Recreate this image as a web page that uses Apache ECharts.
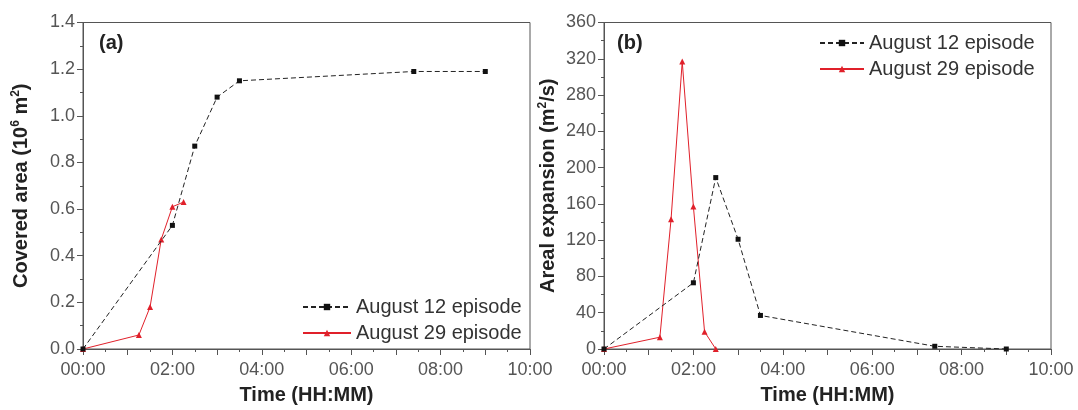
<!DOCTYPE html>
<html><head><meta charset="utf-8">
<script src="https://cdn.jsdelivr.net/npm/echarts@6/dist/echarts.min.js"></script>
<style>html,body{margin:0;padding:0;background:#fff}#c{width:1078px;height:410px}</style>
</head><body><div id="c"></div>
<script>
// Panel (a): covered area (10^6 m^2) vs time (hours)
const aug12AreaHours = [0, 2.0, 2.5, 3.0, 3.5, 7.4, 9.0];
const aug12Area = [0, 0.53, 0.87, 1.08, 1.15, 1.19, 1.19];
const aug29AreaHours = [0, 1.25, 1.5, 1.75, 2.0, 2.25];
const aug29Area = [0, 0.06, 0.18, 0.47, 0.61, 0.63];
// Panel (b): areal expansion (m^2/s) vs time (hours)
const aug12ExpHours = [0, 2.0, 2.5, 3.0, 3.5, 7.4, 9.0];
const aug12Exp = [0, 73, 189, 121, 37, 3, 0];
const aug29ExpHours = [0, 1.25, 1.5, 1.75, 2.0, 2.25, 2.5];
const aug29Exp = [0, 13, 143, 317, 157, 19, 0];
const seriesNames = ['August 12 episode', 'August 29 episode'];
const panelLabels = ['(a)', '(b)'];

const pair = (xs, ys) => xs.map((x, i) => [x, ys[i]]);
const FONT = 'Liberation Sans, Arial, sans-serif';
const AX = '#555';
const RED = '#e0202a';

function xAxis(gi) {
  return {
    type: 'value', gridIndex: gi, min: 0, max: 10, interval: 1,
    name: 'Time (HH:MM)', nameLocation: 'middle', nameGap: 36,
    nameTextStyle: {fontFamily: FONT, fontWeight: 'bold', fontSize: 20, color: '#222'},
    axisLine: {lineStyle: {color: AX, width: 1}},
    axisTick: {show: true, length: 6, lineStyle: {color: AX}},
    minorTick: {show: true, splitNumber: 2, length: 3, lineStyle: {color: AX}},
    splitLine: {show: false},
    axisLabel: {fontFamily: FONT, fontSize: 18, color: '#555', margin: 12,
      formatter: v => (v % 2 === 0 ? String(v).padStart(2, '0') + ':00' : '')}
  };
}
function yAxis(gi, max, interval, dec, name, gap) {
  return {
    type: 'value', gridIndex: gi, min: 0, max: max, interval: interval,
    name: name, nameLocation: 'middle', nameGap: gap, nameRotate: 90,
    nameTextStyle: {fontFamily: FONT, color: '#222',
      rich: {
        a: {fontFamily: FONT, fontWeight: 'bold', fontSize: 20, color: '#222', lineHeight: 22},
        s: {fontFamily: FONT, fontWeight: 'bold', fontSize: 12, color: '#222', verticalAlign: 'top', lineHeight: 12}
      }},
    axisLine: {show: true, lineStyle: {color: AX, width: 1}},
    axisTick: {show: true, length: 6, lineStyle: {color: AX}},
    minorTick: {show: true, splitNumber: 2, length: 3, lineStyle: {color: AX}},
    splitLine: {show: false},
    axisLabel: {fontFamily: FONT, fontSize: 18, color: '#555', margin: 8,
      formatter: v => v.toFixed(dec)}
  };
}
function s12(gi, data) {
  return {name: seriesNames[0], type: 'line', xAxisIndex: gi, yAxisIndex: gi, data: data,
    symbol: 'rect', symbolSize: 5, itemStyle: {color: '#111'},
    lineStyle: {color: '#222', width: 1, type: [5, 3]}, z: 3};
}
function s29(gi, data) {
  return {name: seriesNames[1], type: 'line', xAxisIndex: gi, yAxisIndex: gi, data: data,
    symbol: 'triangle', symbolSize: 6, itemStyle: {color: RED},
    lineStyle: {color: RED, width: 1}, z: 2};
}
const legendText = {fontFamily: FONT, fontSize: 20, color: '#333'};
const chart = echarts.init(document.getElementById('c'));
chart.setOption({
  animation: false,
  grid: [
    {left: 83, top: 22.5, width: 447, height: 330, show: true, borderColor: AX, borderWidth: 1, containLabel: false},
    {left: 604, top: 22.5, width: 447, height: 330, show: true, borderColor: AX, borderWidth: 1, containLabel: false}
  ],
  xAxis: [xAxis(0), xAxis(1)],
  yAxis: [
    yAxis(0, 1.4, 0.2, 1, '{a|Covered area (10}{s|6}{a| m}{s|2}{a|)}', 51),
    yAxis(1, 360, 40, 0, '{a|Areal expansion (m}{s|2}{a|/s)}', 45)
  ],
  legend: [
    {orient: 'vertical', left: 297, top: 292, itemGap: 6, itemWidth: 48, itemHeight: 8,
      textStyle: legendText, data: seriesNames, selectedMode: false},
    {orient: 'vertical', left: 814, top: 28, itemGap: 6, itemWidth: 44, itemHeight: 8,
      textStyle: legendText, data: seriesNames, selectedMode: false}
  ],
  graphic: [
    {type: 'text', left: 99, top: 33, style: {text: panelLabels[0], font: 'bold 20px ' + FONT, fill: '#222'}},
    {type: 'text', left: 617, top: 33, style: {text: panelLabels[1], font: 'bold 20px ' + FONT, fill: '#222'}}
  ],
  series: [
    s12(0, pair(aug12AreaHours, aug12Area)),
    s29(0, pair(aug29AreaHours, aug29Area)),
    s12(1, pair(aug12ExpHours, aug12Exp)),
    s29(1, pair(aug29ExpHours, aug29Exp))
  ]
});
</script></body></html>
